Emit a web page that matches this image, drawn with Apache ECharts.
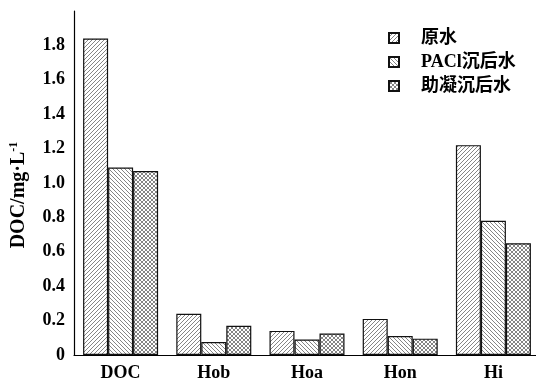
<!DOCTYPE html>
<html>
<head>
<meta charset="utf-8">
<script src="https://cdn.jsdelivr.net/npm/echarts@6/dist/echarts.min.js"></script>
<style>
html,body{margin:0;padding:0;background:#fff;}
#chart{width:536px;height:381px;}
</style>
</head>
<body>
<div id="chart"></div>
<script>
// Categories and DOC fractions (mg/L)
const categories = ['DOC', 'Hob', 'Hoa', 'Hon', 'Hi'];
const rawWater = [1.84, 0.24, 0.14, 0.21, 1.22];
const paclWater = [1.09, 0.075, 0.09, 0.11, 0.78];
const aidWater = [1.07, 0.17, 0.125, 0.095, 0.65];
const seriesNames = ['原水', 'PACl沉后水', '助凝沉后水'];
const yTicks = [0, 0.2, 0.4, 0.6, 0.8, 1.0, 1.2, 1.4, 1.6, 1.8];

// Hatch patterns drawn on small canvases
function hatch(kind) {
  const s = 4;
  const c = document.createElement('canvas');
  c.width = s; c.height = s;
  const g = c.getContext('2d');
  g.fillStyle = '#fff';
  g.fillRect(0, 0, s, s);
  g.strokeStyle = '#666';
  g.lineWidth = 0.8;
  const fwd = () => {
    g.beginPath();
    g.moveTo(-1, 1); g.lineTo(1, -1);
    g.moveTo(0, s); g.lineTo(s, 0);
    g.moveTo(s - 1, s + 1); g.lineTo(s + 1, s - 1);
    g.stroke();
  };
  const back = () => {
    g.beginPath();
    g.moveTo(-1, s - 1); g.lineTo(1, s + 1);
    g.moveTo(0, 0); g.lineTo(s, s);
    g.moveTo(s - 1, -1); g.lineTo(s + 1, 1);
    g.stroke();
  };
  if (kind === 'fwd') fwd();
  else if (kind === 'back') back();
  else { fwd(); back(); }
  return { image: c, repeat: 'repeat' };
}

const serif = '"Liberation Serif", "Times New Roman", "Noto Sans CJK SC", serif';
const data = [rawWater, paclWater, aidWater];
const kinds = ['fwd', 'back', 'cross'];

const chart = echarts.init(document.getElementById('chart'), null, { renderer: 'canvas' });
chart.setOption({
  animation: false,
  backgroundColor: '#fff',
  grid: { left: 74, top: 11, bottom: 26, width: 466, outerBoundsMode: 'none', containLabel: false },
  legend: {
    orient: 'vertical',
    left: 383,
    top: 24,
    icon: 'rect',
    itemWidth: 10,
    itemHeight: 10,
    itemGap: 6,
    textStyle: {
      fontFamily: serif, fontSize: 18, lineHeight: 18, color: '#000', fontWeight: 'bold',
      padding: [0, 0, 0, 17]
    },
    data: seriesNames
  },
  xAxis: {
    type: 'category',
    data: categories,
    axisLine: { lineStyle: { color: '#000', width: 1.2 } },
    axisTick: { inside: true, alignWithLabel: true, length: 4, lineStyle: { color: '#000' } },
    axisLabel: { fontFamily: serif, fontSize: 18, fontWeight: 'bold', color: '#000', margin: 9 }
  },
  yAxis: {
    type: 'value',
    min: 0,
    max: 2,
    interval: 0.2,
    name: 'DOC/mg·L{sup|-1}',
    nameLocation: 'middle',
    nameRotate: 90,
    nameGap: 44,
    nameTextStyle: {
      fontFamily: serif, fontSize: 20, fontWeight: 'bold', color: '#000',
      padding: [0, 24, 0, 0],
      rich: { sup: { fontFamily: serif, fontSize: 12, fontWeight: 'bold', color: '#000', verticalAlign: 'top', padding: [0, 0, 10, 0] } }
    },
    splitLine: { show: false },
    axisLine: { show: true, lineStyle: { color: '#000', width: 1.2 } },
    axisTick: { inside: true, length: 5, lineStyle: { color: '#000' } },
    axisLabel: {
      showMaxLabel: false,
      fontFamily: serif, fontSize: 18, fontWeight: 'bold', color: '#000', margin: 9,
      formatter: v => {
        const t = yTicks.find(x => Math.abs(x - v) < 1e-6);
        if (t === undefined) return '';
        return t === 0 ? '0' : t.toFixed(1);
      }
    }
  },
  series: seriesNames.map((name, i) => ({
    name,
    type: 'bar',
    data: data[i],
    barWidth: 25,
    barGap: '0%',
    itemStyle: { color: hatch(kinds[i]), borderColor: '#111', borderWidth: 1.2 }
  }))
});
</script>
</body>
</html>
